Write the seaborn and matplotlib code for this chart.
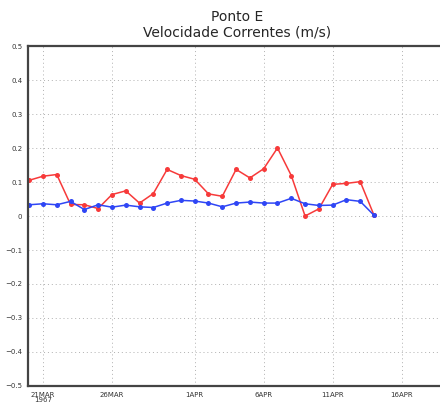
import pandas as pd
import seaborn as sns
from matplotlib import pyplot as plt

# daily values, 20MAR1967 .. 14APR1967
days = pd.date_range('1967-03-20', periods=26, freq='D')
red_vals = [0.105, 0.117, 0.122, 0.034, 0.033, 0.022, 0.063, 0.074, 0.038, 0.066,
            0.137, 0.119, 0.108, 0.065, 0.058, 0.137, 0.112, 0.139, 0.200, 0.119,
            0.000, 0.021, 0.093, 0.096, 0.101, 0.002]
blue_vals = [0.033, 0.036, 0.033, 0.043, 0.019, 0.033, 0.026, 0.032, 0.027, 0.025,
             0.038, 0.046, 0.044, 0.038, 0.027, 0.038, 0.041, 0.038, 0.038, 0.052,
             0.036, 0.031, 0.032, 0.048, 0.043, 0.002]
tick_days = pd.to_datetime(['1967-03-21', '1967-03-26', '1967-04-01',
                            '1967-04-06', '1967-04-11', '1967-04-16'])
tick_labels = ['21MAR\n1967', '26MAR', '1APR', '6APR', '11APR', '16APR']
y_ticks = [-0.5, -0.4, -0.3, -0.2, -0.1, 0, 0.1, 0.2, 0.3, 0.4, 0.5]
y_labels = ['\u22120.5', '\u22120.4', '\u22120.3', '\u22120.2', '\u22120.1', '0',
            '0.1', '0.2', '0.3', '0.4', '0.5']

df = pd.DataFrame({'dia': days, 'red': red_vals, 'blue': blue_vals})

sns.set_style('white')
plt.rcParams['font.family'] = ['DejaVu Sans']

fig = plt.figure(figsize=(4.4, 4.03), dpi=100)
ax = fig.add_axes([28 / 440, 17 / 403, 420 / 440, 340 / 403])

sns.lineplot(data=df, x='dia', y='red', ax=ax, color='#f73a3a', lw=1.1,
             marker='o', markersize=3.6, markeredgewidth=0)
sns.lineplot(data=df, x='dia', y='blue', ax=ax, color='#2f46f5', lw=1.1,
             marker='o', markersize=3.6, markeredgewidth=0)

ax.set_ylim(-0.5, 0.5)
ax.set_xlim(days[0] - pd.Timedelta(hours=2), days[0] + pd.Timedelta(days=30.36))
ax.set_yticks(y_ticks)
ax.set_yticklabels(y_labels, fontsize=5, color='#333333')
ax.set_xticks(tick_days)
ax.set_xticklabels(tick_labels, fontsize=5, color='#333333', linespacing=0.9)
ax.tick_params(axis='both', length=2.5, width=0.6, color='#444444', pad=1.5)
ax.grid(True, ls=(0, (1, 3)), color='#b0b0b0', lw=0.7)
ax.set_xlabel('')
ax.set_ylabel('')

for side in ['left', 'top', 'bottom']:
    ax.spines[side].set_color('#444444')
    ax.spines[side].set_linewidth(1.6)
ax.spines['right'].set_visible(False)

fig.text(237 / 440, 1 - 17 / 403, 'Ponto E', ha='center', va='center', fontsize=10)
fig.text(237 / 440, 1 - 33 / 403, 'Velocidade Correntes (m/s)', ha='center',
         va='center', fontsize=10)

fig.savefig('out.png', dpi=100)
